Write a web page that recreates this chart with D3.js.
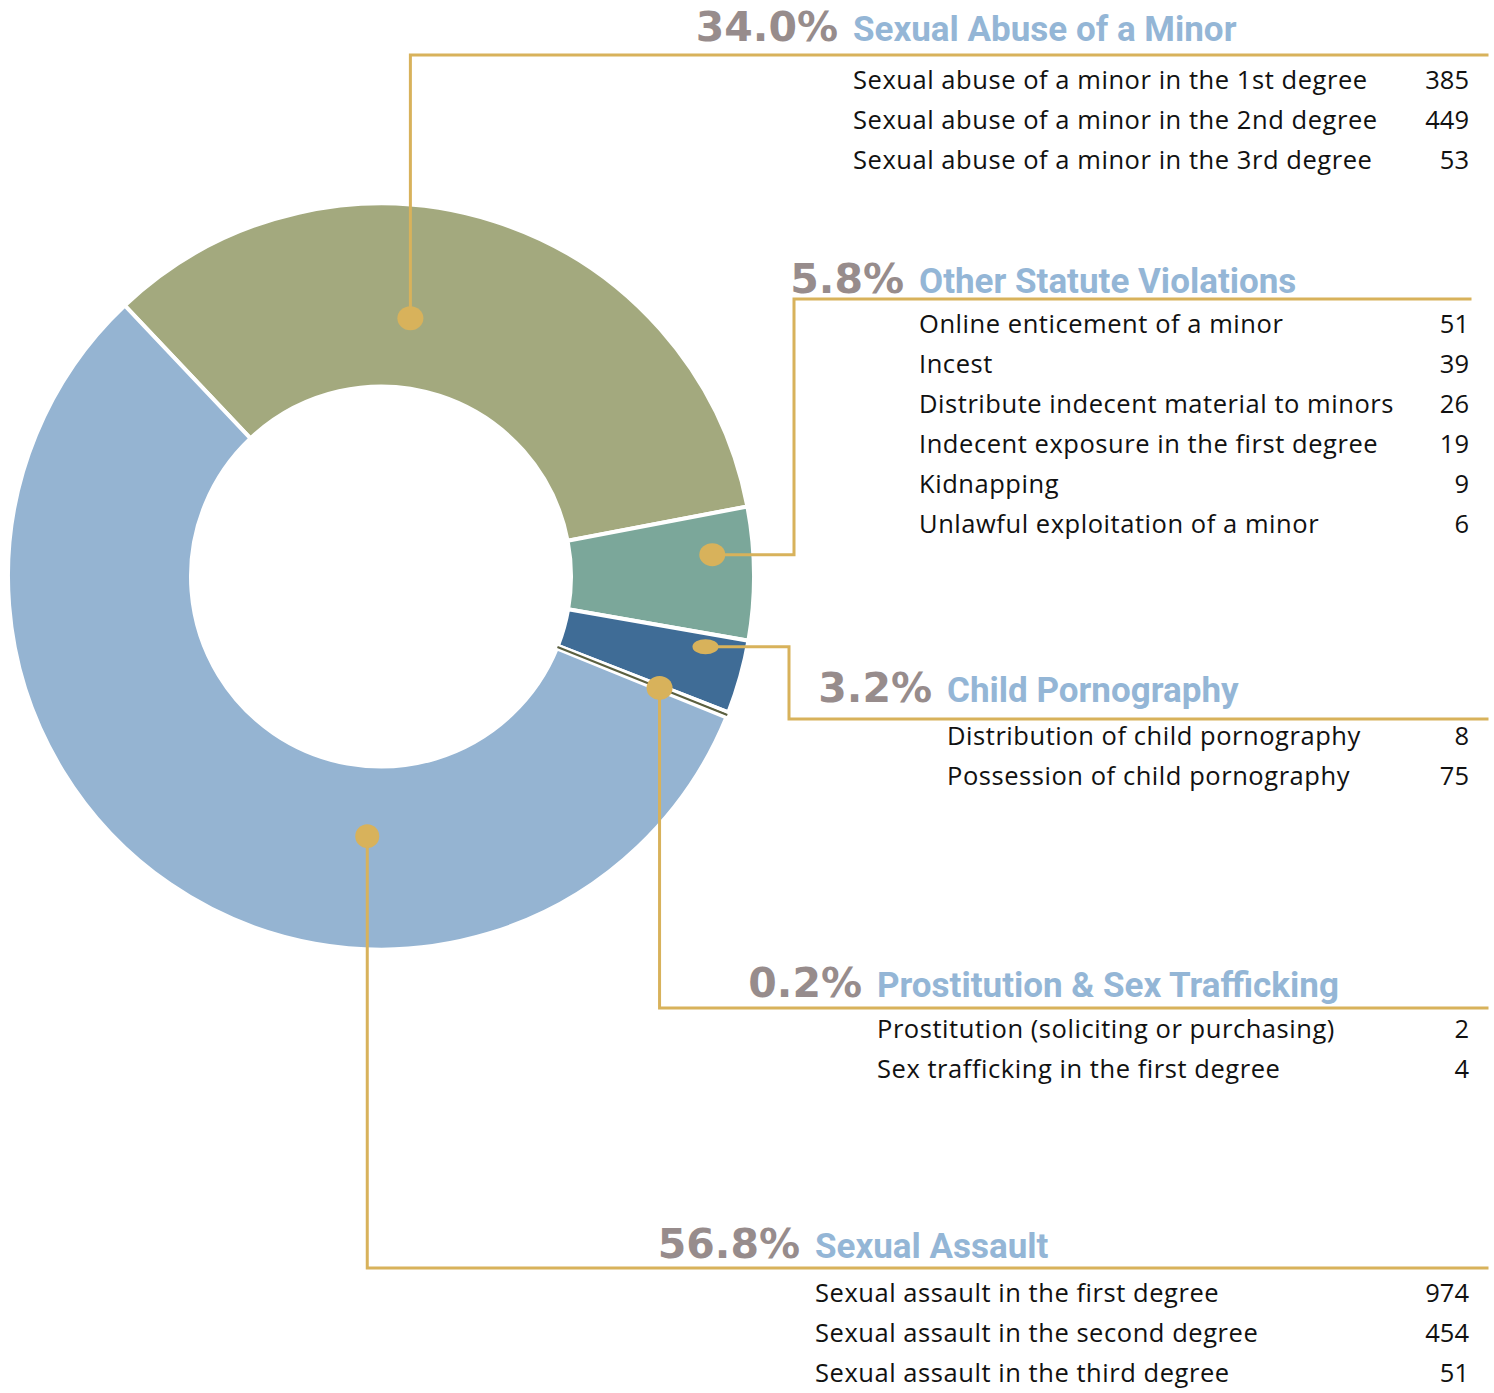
<!DOCTYPE html>
<html>
<head>
<meta charset="utf-8">
<script src="https://cdn.jsdelivr.net/npm/d3@7"></script>
<style>
  html, body { margin: 0; background: #fff; }
  svg { display: block; }
</style>
</head>
<body>
<svg id="chart" width="1494" height="1393"></svg>
<script>
// ---- Data: offence categories, their charges and counts ----
const categories = [
  "Sexual Abuse of a Minor",
  "Other Statute Violations",
  "Child Pornography",
  "Prostitution & Sex Trafficking",
  "Sexual Assault"
];

const abuseOfMinorCharges = [
  "Sexual abuse of a minor in the 1st degree",
  "Sexual abuse of a minor in the 2nd degree",
  "Sexual abuse of a minor in the 3rd degree"
];
const abuseOfMinorCounts = [385, 449, 53];

const otherStatuteCharges = [
  "Online enticement of a minor",
  "Incest",
  "Distribute indecent material to minors",
  "Indecent exposure in the first degree",
  "Kidnapping",
  "Unlawful exploitation of a minor"
];
const otherStatuteCounts = [51, 39, 26, 19, 9, 6];

const childPornCharges = [
  "Distribution of child pornography",
  "Possession of child pornography"
];
const childPornCounts = [8, 75];

const prostitutionCharges = [
  "Prostitution (soliciting or purchasing)",
  "Sex trafficking in the first degree"
];
const prostitutionCounts = [2, 4];

const sexualAssaultCharges = [
  "Sexual assault in the first degree",
  "Sexual assault in the second degree",
  "Sexual assault in the third degree"
];
const sexualAssaultCounts = [974, 454, 51];

const sliceColors = ["#a3a97e", "#7ba79a", "#3f6c96", "#5b6040", "#95b4d2"];

// ---- Layout ----
const W = 1494, H = 1393;
const cx = 381, cy = 576.5, outerR = 373, innerR = 190;
const startDeg = -43.4;
const gold = "#d8b25b";
const pctColor = "#978c8c";
const nameColor = "#94b6d6";
const valueRight = 1469;
const rowStep = 40;
const bodyFont = "'Open Sans', 'Noto Sans', sans-serif";
const nameFont = "Roboto, 'Noto Sans', sans-serif";
const pctFont = "'DejaVu Sans', sans-serif";

// Per-category callout layout: where the dot sits inside its slice
// (fraction of the slice's sweep, radius), the elbow route, the rule and the text block.
const callouts = [
  { frac: 0.407, r: 260, rx: 13, ry: 12,   route: "v",  lineY: 55,   lineEnd: 1487, textX: 853, titleY: 41,   rowY: 89 },
  { frac: 0.34,  r: 332, rx: 13, ry: 11.5, route: "hv", elbowX: 794, lineY: 299, lineEnd: 1470, textX: 919, titleY: 293, rowY: 333 },
  { frac: 0.2,   r: 332, rx: 13, ry: 7.5,  route: "hv", elbowX: 789, lineY: 719, lineEnd: 1487, textX: 947, titleY: 702, rowY: 745 },
  { frac: 0.5,   r: 300, rx: 13, ry: 12,   route: "v",  lineY: 1008, lineEnd: 1487, textX: 877, titleY: 997, rowY: 1038 },
  { frac: 0.3465, r: 260, rx: 12, ry: 12,  route: "v",  lineY: 1268, lineEnd: 1487, textX: 815, titleY: 1258, rowY: 1302 }
];

const chargeLists = [abuseOfMinorCharges, otherStatuteCharges, childPornCharges, prostitutionCharges, sexualAssaultCharges];
const countLists = [abuseOfMinorCounts, otherStatuteCounts, childPornCounts, prostitutionCounts, sexualAssaultCounts];

const groups = categories.map((name, i) => ({
  name,
  charges: chargeLists[i],
  counts: countLists[i],
  total: d3.sum(countLists[i]),
  color: sliceColors[i],
  layout: callouts[i]
}));
const grandTotal = d3.sum(groups, d => d.total);
const fmtPct = d3.format(".1%");

const svg = d3.select("#chart");
const rad = Math.PI / 180;

const pie = d3.pie()
  .sort(null)
  .value(d => d.total)
  .startAngle(startDeg * rad)
  .endAngle(startDeg * rad + 2 * Math.PI);

const arcs = pie(groups);
const arc = d3.arc().innerRadius(innerR).outerRadius(outerR);

const donut = svg.append("g").attr("transform", `translate(${cx},${cy})`);

donut.selectAll("path.slice")
  .data(arcs)
  .join("path")
  .attr("class", "slice")
  .attr("d", arc)
  .attr("fill", d => d.data.color)
  .attr("stroke", "#fff")
  .attr("stroke-width", 4)
  .attr("stroke-linejoin", "miter");

// Slivers too thin to survive the white separators get a hairline at their mid angle
donut.selectAll("line.sliver")
  .data(arcs.filter(d => (d.endAngle - d.startAngle) * outerR < 8))
  .join("line")
  .attr("class", "sliver")
  .attr("x1", d => innerR * Math.sin((d.startAngle + d.endAngle) / 2))
  .attr("y1", d => -innerR * Math.cos((d.startAngle + d.endAngle) / 2))
  .attr("x2", d => outerR * Math.sin((d.startAngle + d.endAngle) / 2))
  .attr("y2", d => -outerR * Math.cos((d.startAngle + d.endAngle) / 2))
  .attr("stroke", d => d.data.color)
  .attr("stroke-width", 2);

// ---- Leader lines and dots ----
function dotPos(a) {
  const L = a.data.layout;
  const ang = a.startAngle + L.frac * (a.endAngle - a.startAngle);
  return [cx + L.r * Math.sin(ang), cy - L.r * Math.cos(ang)];
}

const leaders = svg.append("g");
arcs.forEach(a => {
  const L = a.data.layout;
  const [dx, dy] = dotPos(a);
  const path = d3.path();
  path.moveTo(dx, dy);
  if (L.route === "v") {
    path.lineTo(dx, L.lineY);
  } else {
    path.lineTo(L.elbowX, dy);
    path.lineTo(L.elbowX, L.lineY);
  }
  path.lineTo(L.lineEnd, L.lineY);
  leaders.append("path")
    .attr("d", path.toString())
    .attr("fill", "none")
    .attr("stroke", gold)
    .attr("stroke-width", 3)
    .attr("stroke-linejoin", "miter")
    .attr("stroke-linecap", "square");
  leaders.append("ellipse")
    .attr("cx", dx).attr("cy", dy)
    .attr("rx", L.rx).attr("ry", L.ry)
    .attr("fill", gold);
});

// ---- Text blocks ----
const labels = svg.append("g");
groups.forEach(g => {
  const L = g.layout;
  labels.append("text")
    .attr("x", L.textX - 15)
    .attr("y", L.titleY)
    .attr("text-anchor", "end")
    .attr("font-family", pctFont)
    .attr("font-weight", 700)
    .attr("font-size", 41)
    .attr("fill", pctColor)
    .text(fmtPct(g.total / grandTotal));
  labels.append("text")
    .attr("x", L.textX)
    .attr("y", L.titleY)
    .attr("font-family", nameFont)
    .attr("font-weight", 700)
    .attr("font-size", 35)
    .attr("fill", nameColor)
    .text(g.name);

  g.charges.forEach((c, j) => {
    labels.append("text")
      .attr("x", L.textX)
      .attr("y", L.rowY + j * rowStep)
      .attr("font-family", bodyFont)
      .attr("font-size", 25.5)
      .attr("letter-spacing", 0.55)
      .attr("fill", "#111")
      .text(c);
    labels.append("text")
      .attr("x", valueRight)
      .attr("y", L.rowY + j * rowStep)
      .attr("text-anchor", "end")
      .attr("font-family", bodyFont)
      .attr("font-size", 25.5)
      .attr("fill", "#111")
      .text(g.counts[j]);
  });
});
</script>
</body>
</html>
